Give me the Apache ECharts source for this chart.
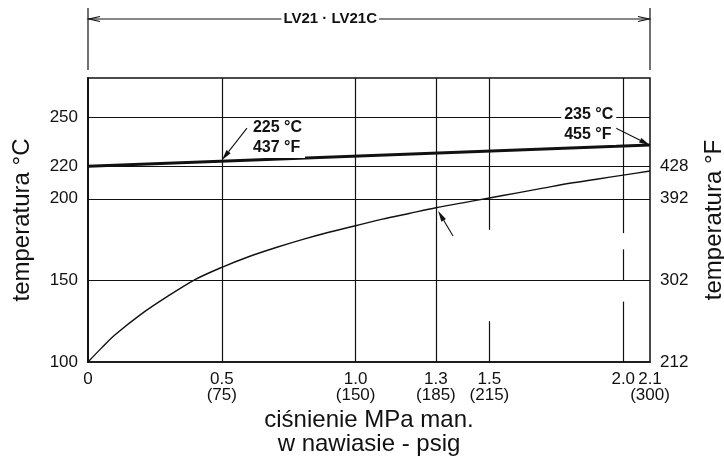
<!DOCTYPE html>
<html><head><meta charset="utf-8">
<script src="https://cdn.jsdelivr.net/npm/echarts@6/dist/echarts.min.js"></script>
<style>html,body{margin:0;padding:0;background:#fff}#c{width:724px;height:464px}</style>
</head><body><div id="c"></div>
<script>
// ---- data ----
const pressureTicks = [0, 0.5, 1.0, 1.3, 1.5, 2.1];
const pressureLabels = ['0', '0.5', '1.0', '1.3', '1.5', '2.1'];
const psigLabels = ['', '(75)', '(150)', '(185)', '(215)', '(300)'];
const extraPressureTicks = [2.0];
const extraPressureLabels = ['2.0'];
const tempCTicks = [100, 150, 200, 220, 250];
const tempFTicks = [100, 150, 200, 220];
const tempFLabels = ['212', '302', '392', '428'];
const curvePressure = [0, 0.05, 0.1, 0.2, 0.3, 0.4, 0.5, 0.6, 0.7, 0.8, 0.9, 1.0, 1.1, 1.2, 1.3, 1.4, 1.5, 1.6, 1.7, 1.8, 1.9, 2.0, 2.1];
const curveTemp = [100, 108.5, 116.5, 129.5, 140.5, 150.5, 158, 164.5, 170, 175, 179.5, 183.5, 187.5, 191, 194.5, 197.5, 200.5, 203.5, 206.5, 209.5, 212, 214.5, 217];
const limitPressure = [0, 2.1];
const limitTemp = [220, 233];
const hGridTemps = [150, 200, 220, 250];
const vGridX = [0.5, 1.0, 1.3, 1.5, 1.5, 2.0, 2.0, 2.0];
const vGridFrom = [100, 100, 100, 100, 181, 100, 150, 179];
const vGridTo = [274, 274, 274, 125, 274, 137, 169, 274];
const yMin = 100, yMax = 274, xMin = 0, xMax = 2.1;
const noteTexts = ['225 °C\n437 °F', '235 °C\n455 °F'];
const noteAnchors = [[0.605, 249.5], [1.768, 257.5]];
const arrowTails = [[0.594, 243.3], [1.962, 244.2], [1.364, 177.2]];
const arrowTips = [[0.5, 223.6], [2.1, 232.8], [1.308, 192.6]];
const bandTitle = 'LV21 · LV21C';

const FONT = '"Liberation Sans", Arial, Helvetica, sans-serif';
const INK = '#111';

const chart = echarts.init(document.getElementById('c'), null, {renderer: 'canvas'});

const markData = hGridTemps.map(v => ({yAxis: v}));
vGridX.forEach((x, i) => markData.push([{coord: [x, vGridFrom[i]]}, {coord: [x, vGridTo[i]]}]));

function idxOf(arr, v) { return arr.findIndex(t => Math.abs(t - v) < 1e-6); }

const tickLabelStyle = {fontFamily: FONT, fontSize: 17, color: INK, lineHeight: 16};

chart.setOption({
  animation: false,
  backgroundColor: '#fff',
  grid: {left: 88, right: 74, top: 78, bottom: 102, containLabel: false, outerBoundsMode: 'none',
    show: true, borderColor: INK, borderWidth: 1.5, backgroundColor: 'transparent'},
  xAxis: [{
    type: 'value', min: xMin, max: xMax,
    name: 'ciśnienie MPa man.\nw nawiasie - psig',
    nameLocation: 'middle', nameGap: 44,
    nameTextStyle: {fontFamily: FONT, fontSize: 24, color: INK, lineHeight: 24},
    axisLine: {show: true, lineStyle: {color: INK, width: 1.5}},
    axisTick: {show: false},
    splitLine: {show: false},
    axisLabel: Object.assign({
      customValues: pressureTicks, margin: 9, showMinLabel: true, showMaxLabel: true, hideOverlap: false,
      formatter: v => { const i = idxOf(pressureTicks, v); if (i < 0) return ''; return psigLabels[i] ? pressureLabels[i] + '\n' + psigLabels[i] : pressureLabels[i]; }
    }, tickLabelStyle)
  }, {
    type: 'value', min: xMin, max: xMax, position: 'bottom',
    axisLine: {show: false}, axisTick: {show: false}, splitLine: {show: false},
    axisLabel: Object.assign({
      customValues: extraPressureTicks, margin: 9, hideOverlap: false,
      formatter: v => { const i = idxOf(extraPressureTicks, v); return i < 0 ? '' : extraPressureLabels[i]; }
    }, tickLabelStyle)
  }],
  yAxis: [{
    type: 'value', min: yMin, max: yMax, position: 'left',
    name: 'temperatura °C', nameLocation: 'middle', nameGap: 54, nameRotate: 90,
    nameTextStyle: {fontFamily: FONT, fontSize: 24, color: INK},
    axisLine: {show: true, lineStyle: {color: INK, width: 1.5}},
    axisTick: {show: false}, splitLine: {show: false},
    axisLabel: {customValues: tempCTicks, margin: 10, showMinLabel: true, fontFamily: FONT, fontSize: 17, color: INK}
  }, {
    type: 'value', min: yMin, max: yMax, position: 'right',
    name: 'temperatura °F', nameLocation: 'middle', nameGap: 52, nameRotate: 90,
    nameTextStyle: {fontFamily: FONT, fontSize: 24, color: INK},
    axisLine: {show: true, lineStyle: {color: INK, width: 1.5}},
    axisTick: {show: false}, splitLine: {show: false},
    axisLabel: {customValues: tempFTicks, margin: 10, showMinLabel: true, fontFamily: FONT, fontSize: 17, color: INK,
      formatter: v => { const i = idxOf(tempFTicks, v); return i < 0 ? '' : tempFLabels[i]; }}
  }],
  series: [{
    type: 'line', name: 'saturation', smooth: 0.3, showSymbol: false, xAxisIndex: 0, yAxisIndex: 0,
    data: curvePressure.map((p, i) => [p, curveTemp[i]]),
    lineStyle: {color: INK, width: 1.4}, z: 3,
    markLine: {silent: true, symbol: ['none', 'none'], label: {show: false},
      lineStyle: {color: INK, width: 1.2, type: 'solid'}, data: markData, z: 1}
  }, {
    type: 'line', name: 'limit', showSymbol: false, xAxisIndex: 0, yAxisIndex: 0,
    data: limitPressure.map((p, i) => [p, limitTemp[i]]),
    lineStyle: {color: INK, width: 3}, z: 4
  }]
});

function px(pt) { return chart.convertToPixel({xAxisIndex: 0, yAxisIndex: 0}, pt); }

function arrowEls(p0, p1, len, hw) {
  const dx = p1[0] - p0[0], dy = p1[1] - p0[1], L = Math.hypot(dx, dy);
  const ux = dx / L, uy = dy / L;
  const bx = p1[0] - ux * len, by = p1[1] - uy * len;
  return [
    {type: 'line', z: 100, shape: {x1: p0[0], y1: p0[1], x2: bx, y2: by}, style: {stroke: INK, lineWidth: 1.1}},
    {type: 'polygon', z: 100, shape: {points: [p1, [bx - uy * hw, by + ux * hw], [bx + uy * hw, by - ux * hw]]}, style: {fill: INK}}
  ];
}

const g = [];
noteTexts.forEach((t, i) => {
  const p = px(noteAnchors[i]);
  g.push({type: 'text', z: 101, x: p[0], y: p[1],
    style: {text: t, fontFamily: FONT, fontWeight: 'bold', fontSize: 16, lineHeight: 20, fill: INK,
      align: 'left', verticalAlign: 'top', backgroundColor: '#fff', padding: [0, 3]}});
});
arrowTails.forEach((t, i) => { g.push(...arrowEls(px(t), px(arrowTips[i]), 11, 2.6)); });

const xl = chart.convertToPixel({xAxisIndex: 0}, xMin);
const xr = chart.convertToPixel({xAxisIndex: 0}, xMax);
const by = 19;
g.push({type: 'line', z: 100, shape: {x1: xl, y1: 8, x2: xl, y2: 70}, style: {stroke: INK, lineWidth: 1.2}});
g.push({type: 'line', z: 100, shape: {x1: xr, y1: 8, x2: xr, y2: 70}, style: {stroke: INK, lineWidth: 1.2}});
g.push({type: 'line', z: 100, shape: {x1: xl, y1: by, x2: xr, y2: by}, style: {stroke: INK, lineWidth: 1.2}});
g.push({type: 'polyline', z: 100, shape: {points: [[xl + 12, by - 2.5], [xl + 1, by], [xl + 12, by + 2.5]]}, style: {stroke: INK, lineWidth: 1.2, fill: null}});
g.push({type: 'polyline', z: 100, shape: {points: [[xr - 12, by - 2.5], [xr - 1, by], [xr - 12, by + 2.5]]}, style: {stroke: INK, lineWidth: 1.2, fill: null}});
g.push({type: 'text', z: 101, x: xl + (xr - xl) * 0.431, y: by,
  style: {text: bandTitle, fontFamily: FONT, fontWeight: 'bold', fontSize: 15, fill: INK,
    align: 'center', verticalAlign: 'middle', backgroundColor: '#fff', padding: [0, 2]}});

chart.setOption({graphic: g});
</script></body></html>
